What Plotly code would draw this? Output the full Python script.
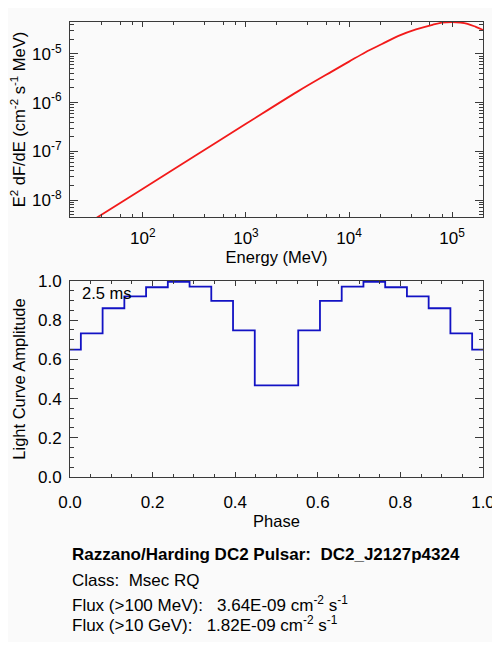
import plotly.graph_objects as go

# spectrum
energy_mev = [31.6, 100, 316, 1000, 3162, 6918, 10000, 14454, 20893, 30200, 44670, 64570,
              79433, 100000, 120226, 141250, 169824, 199500]
sed_flux = [3.72e-9, 1.72e-8, 7.94e-8, 3.67e-7, 1.68e-6, 4.42e-6, 6.92e-6, 1.08e-5, 1.59e-5, 2.33e-5,
            3.16e-5, 3.94e-5, 4.34e-5, 4.49e-5, 4.38e-5, 4.12e-5, 3.57e-5, 3.09e-5]

# light curve, 19 bins over one rotation
phase = [0.0, 0.0526, 0.1053, 0.1579, 0.2105, 0.2632, 0.3158, 0.3684, 0.4211, 0.4737,
         0.5263, 0.5789, 0.6316, 0.6842, 0.7368, 0.7895, 0.8421, 0.8947, 0.9474, 1.0]
amplitude = [0.65, 0.733, 0.861, 0.922, 0.968, 0.995, 0.971, 0.899, 0.748, 0.467,
             0.467, 0.748, 0.899, 0.971, 0.995, 0.968, 0.922, 0.861, 0.733, 0.65]

energy_ticks = [1e2, 1e3, 1e4, 1e5]
energy_ticktext = ["10<sup>2</sup>", "10<sup>3</sup>", "10<sup>4</sup>", "10<sup>5</sup>"]
energy_minor = [m * 10 ** e for e in range(1, 6) for m in (2, 4, 6, 8)]
flux_ticks = [1e-8, 1e-7, 1e-6, 1e-5]
flux_ticktext = ["10<sup>-8</sup>", "10<sup>-7</sup>", "10<sup>-6</sup>", "10<sup>-5</sup>"]
flux_minor = [m * 10 ** e for e in range(-9, -4) for m in range(2, 10)]

source_name = "DC2_J2127p4324"
source_class = "Msec RQ"
flux_100mev = "3.64E-09"
flux_10gev = "1.82E-09"
period_label = "2.5 ms"

font_family = "Liberation Sans"
axis_color = "#3a3a3a"
bg_color = "#fafafa"
tick_size = 17
title_size = 16.5

fig = go.Figure()
fig.add_trace(go.Scatter(x=energy_mev, y=sed_flux, mode="lines", line=dict(color="#f21a1a", width=1.8, shape="spline"),
                         xaxis="x", yaxis="y", showlegend=False))
fig.add_trace(go.Scatter(x=phase, y=amplitude, mode="lines", line=dict(color="#1212c4", width=1.8, shape="hvh"),
                         xaxis="x2", yaxis="y2", showlegend=False))

common = dict(showline=True, linecolor=axis_color, linewidth=1, mirror="ticks", ticks="inside",
              tickcolor=axis_color, showgrid=False, zeroline=False,
              tickfont=dict(family=font_family, size=tick_size, color="black"))

# the page body sits 8px in from the window corner; keep the height inside the
# window so no scrollbar appears
fig.update_layout(
    width=492, height=634,
    margin=dict(l=62, r=15, t=5, b=165),
    paper_bgcolor=bg_color, plot_bgcolor=bg_color,
    font=dict(family=font_family, size=tick_size, color="black"),
    xaxis=dict(type="log", range=[1.293, 5.3], domain=[0, 1], anchor="y",
               tickmode="array", tickvals=energy_ticks, ticktext=energy_ticktext, ticklen=5,
               ticklabelstandoff=6,
               minor=dict(tickmode="array", tickvals=energy_minor, ticks="inside", ticklen=3, tickcolor=axis_color),
               title=dict(text="Energy (MeV)", standoff=1, font=dict(size=title_size)), **common),
    yaxis=dict(type="log", range=[-8.345, -4.348], domain=[0.5714, 1], anchor="x",
               tickmode="array", tickvals=flux_ticks, ticktext=flux_ticktext, ticklen=8,
               ticklabelstandoff=4,
               minor=dict(tickmode="array", tickvals=flux_minor, ticks="inside", ticklen=4, tickcolor=axis_color),
               title=dict(text="E<sup>2</sup> dF/dE (cm<sup>-2</sup> s<sup>-1</sup> MeV)", standoff=7,
                          font=dict(size=title_size)),
               **common),
    xaxis2=dict(range=[0, 1], domain=[0, 1], anchor="y2", dtick=0.2, tickformat=".1f", ticklen=5,
                ticklabelstandoff=10,
                minor=dict(dtick=0.05, ticks="inside", ticklen=3, tickcolor=axis_color),
                title=dict(text="Phase", standoff=4, font=dict(size=title_size)), **common),
    yaxis2=dict(range=[0, 1], domain=[0, 0.4308], anchor="x2", dtick=0.2, tickformat=".1f", ticklen=8,
                ticklabelstandoff=4,
                minor=dict(dtick=0.05, ticks="inside", ticklen=4, tickcolor=axis_color),
                title=dict(text="Light Curve Amplitude", standoff=8, font=dict(size=title_size)), **common),
)

fig.add_annotation(x=0.025, y=0.94, xref="x2", yref="y2", text=period_label, showarrow=False,
                   xanchor="left", yanchor="middle", font=dict(size=title_size))

info_lines = [
    ("<b>Razzano/Harding DC2 Pulsar:  " + source_name + "</b>", -0.171),
    ("Class:  " + source_class, -0.227),
    ("Flux (>100 MeV):   " + flux_100mev + " cm<sup>-2</sup> s<sup>-1</sup>", -0.279),
    ("Flux (>10 GeV):   " + flux_10gev + " cm<sup>-2</sup> s<sup>-1</sup>", -0.324),
]
for text, ypos in info_lines:
    fig.add_annotation(x=0, y=ypos, xref="paper", yref="paper", text=text, showarrow=False,
                       xanchor="left", yanchor="middle", font=dict(size=tick_size))

fig.write_html("out.html")
